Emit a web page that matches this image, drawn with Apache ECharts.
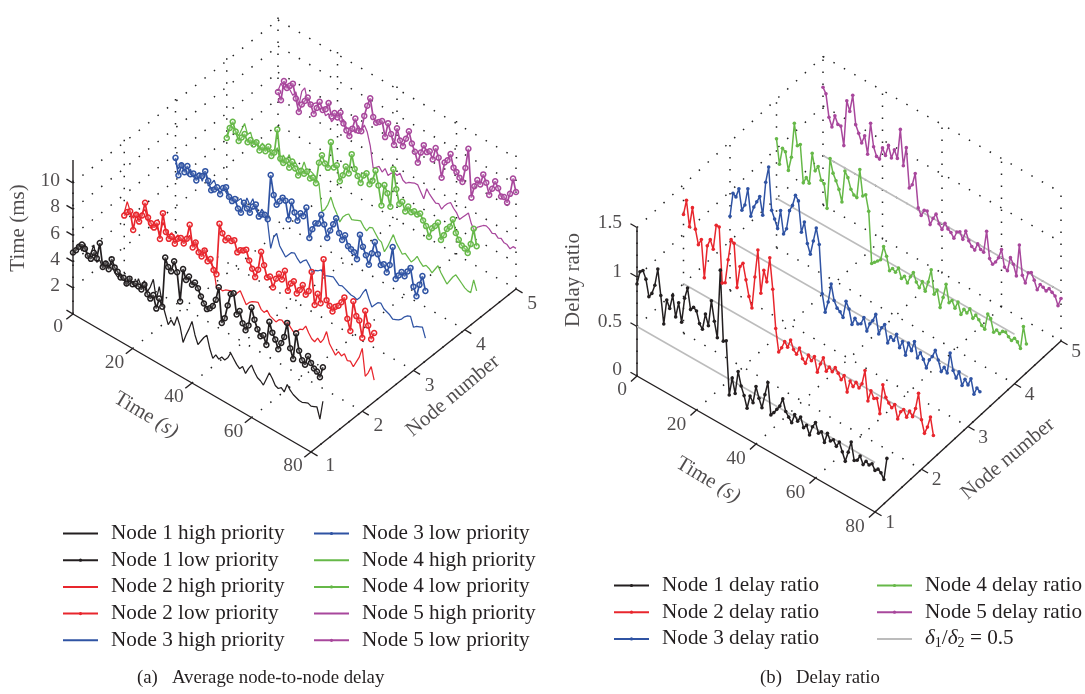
<!DOCTYPE html>
<html><head><meta charset="utf-8"><style>html,body{margin:0;padding:0;background:#fff}#c{width:1085px;height:694px}</style>
<script src="https://cdn.jsdelivr.net/npm/echarts@6/dist/echarts.min.js"></script></head>
<body><div id="c"></div>
<script>
// ---- tick labels ----
const timeTicks=[0,20,40,60,80];
const nodeTicks=[1,2,3,4,5];
const delayTicks=[2,4,6,8,10];
const ratioTicks=[0.5,1,1.5];
// ---- panel (a): average node-to-node delay (ms), one value per second ----
const node1High=[4.6,5.1,5.6,5.2,5.9,5.0,5.4,6.2,5.0,5.3,4.8,5.5,5.2,5.6,5.0,4.8,5.2,5.0,4.5,5.3,5.0,4.8,5.6,5.1,5.7,5.0,5.5,6.2,4.8,5.9,
4.8,4.1,3.4,3.9,3.6,4.4,3.8,2.7,3.4,4.0,4.7,3.8,3.2,3.6,4.0,4.3,3.4,2.8,3.2,3.0,3.3,3.2,3.5,4.0,3.7,3.4,3.2,3.5,3.1,3.6,
4.0,3.6,3.3,3.2,3.0,3.6,4.2,3.9,3.5,3.4,3.6,3.4,4.1,3.8,3.6,3.5,3.4,3.4,3.5,3.6,3.5,3.6,3.7,2.9,4.4];
const node1Low=[4.7,5.0,5.4,5.7,5.5,5.1,5.0,5.6,5.3,6.6,4.9,5.3,5.0,5.9,5.4,5.2,4.9,5.0,4.7,5.2,4.9,5.1,5.0,4.9,5.4,4.8,4.6,5.0,4.1,5.0,
4.5,8.4,7.8,7.6,8.5,7.8,5.7,8.3,7.6,8.0,7.5,7.8,7.5,7.0,6.6,6.3,6.5,6.8,7.4,8.5,5.9,6.4,7.5,8.5,8.7,7.2,7.6,6.8,6.4,6.9,
8.4,7.6,7.0,6.6,6.8,6.2,8.1,7.4,7.0,6.4,7.0,7.6,8.8,7.0,6.3,8.4,7.2,6.6,6.4,7.2,6.8,6.5,6.4,6.1,7.0];
const node2High=[4.6,5.6,5.0,4.6,5.2,4.9,5.4,5.8,5.0,4.6,4.9,5.0,4.6,5.6,5.2,4.9,5.2,4.8,5.3,5.0,5.1,5.3,5.8,5.2,5.6,5.0,5.0,5.4,4.9,4.6,
4.4,3.0,3.1,3.0,3.2,3.3,3.4,3.2,3.5,3.8,3.4,3.0,3.3,3.5,3.6,3.7,3.3,3.2,3.5,3.2,3.1,3.0,3.3,3.4,3.2,3.5,3.2,3.0,3.2,3.5,
3.6,4.0,3.6,3.3,3.2,3.6,3.4,3.8,4.5,3.7,3.4,3.1,3.5,3.3,3.6,3.2,3.3,3.0,3.5,4.0,4.8,2.8,3.2,3.8,2.9];
const node2Low=[4.4,4.8,5.0,3.7,5.0,4.6,5.2,6.3,5.3,5.0,4.8,5.3,4.2,6.3,5.0,4.6,4.9,4.5,5.0,5.2,4.9,5.4,6.6,5.0,5.5,4.9,4.7,5.3,4.6,4.9,
4.2,4.0,8.0,7.4,7.0,7.3,7.2,7.4,6.6,6.9,7.0,7.2,6.5,6.0,5.5,6.2,7.7,6.8,6.0,6.2,5.5,6.3,6.8,6.5,7.3,5.9,6.6,6.9,6.1,6.5,
7.0,6.4,6.8,8.4,6.0,7.0,6.4,9.9,6.9,6.6,6.3,6.8,7.0,7.4,7.9,6.4,5.6,8.0,7.0,6.8,5.6,7.8,6.8,5.9,6.5];
const node3High=[5.3,5.0,5.6,5.2,4.9,5.5,5.0,5.3,5.6,5.1,6.0,5.0,5.3,5.7,5.2,5.0,5.5,5.3,5.0,5.2,4.9,5.2,5.5,5.0,5.8,5.4,6.0,5.3,5.0,5.6,
5.4,4.8,3.0,4.0,4.4,3.6,3.3,3.0,3.3,3.6,3.7,3.4,3.2,3.5,3.7,3.4,3.0,3.3,3.4,3.6,3.3,3.4,3.5,3.6,3.4,3.2,3.3,3.2,3.1,3.0,
3.0,2.9,3.2,3.7,4.1,3.5,3.0,3.3,3.6,3.7,3.4,3.3,3.2,3.0,3.1,3.2,3.4,3.7,3.9,4.0,3.3,3.5,3.6,3.7,3.0];
const node3Low=[5.7,4.5,5.4,5.0,5.6,5.1,5.3,4.9,5.4,5.5,6.0,5.4,4.8,5.0,5.3,4.9,5.5,5.7,5.1,4.9,5.2,4.6,4.4,5.3,5.0,4.8,5.4,5.7,4.9,5.2,
5.3,5.1,8.6,7.2,6.6,7.0,7.4,7.3,6.0,7.5,6.8,6.3,7.0,6.9,7.7,5.5,6.3,6.9,7.0,7.8,7.2,6.3,7.0,7.6,8.2,7.2,6.8,7.3,6.6,6.5,
6.4,6.0,8.0,7.2,6.7,6.1,7.1,8.1,7.3,6.6,6.8,6.3,7.0,8.5,6.2,6.6,7.0,6.8,7.3,7.7,6.4,5.8,6.8,7.6,6.6];
const node4High=[4.3,5.0,5.2,5.0,4.8,5.4,6.0,5.3,5.6,4.9,5.2,4.8,5.3,5.0,4.9,5.2,5.0,5.6,4.6,5.3,5.0,5.6,4.9,5.3,5.0,4.9,5.7,5.1,5.3,5.2,
4.9,4.7,2.7,3.0,3.5,4.2,3.6,3.2,2.7,3.2,3.5,3.7,3.4,3.5,3.6,3.7,3.4,3.2,3.6,3.7,3.4,3.1,3.0,2.4,2.9,3.5,4.1,3.6,3.3,3.0,
3.2,3.0,2.8,3.1,3.5,3.2,3.0,3.2,3.1,2.9,3.3,3.7,3.3,3.0,2.7,3.1,3.5,3.8,3.6,3.4,3.2,3.1,3.1,4.2,3.5];
const node4Low=[4.1,5.0,5.6,5.0,4.4,4.8,5.2,4.7,5.0,4.8,5.1,4.6,5.0,4.8,5.3,4.7,5.1,7.0,4.9,4.7,5.0,4.6,5.2,4.8,4.4,4.9,4.8,5.1,4.7,4.9,
4.6,6.3,7.0,6.5,6.3,8.4,6.6,6.9,5.8,6.4,7.2,6.8,8.4,7.4,7.0,6.6,7.3,7.6,6.9,7.3,8.2,7.2,5.8,7.5,7.0,6.1,9.1,7.7,6.7,7.0,
6.4,6.9,6.6,6.8,6.7,6.9,6.5,6.2,5.5,6.3,6.6,7.0,5.8,6.3,6.9,7.2,7.9,7.0,6.6,6.3,6.2,6.0,6.8,8.1,6.9];
const node5High=[4.6,5.3,5.0,5.5,5.2,4.9,5.3,4.4,5.6,6.0,5.0,4.9,5.2,5.4,5.0,5.3,4.8,5.1,4.6,5.0,5.3,5.0,5.3,4.8,4.9,5.0,4.8,5.5,5.2,5.8,
5.4,4.5,2.9,3.1,3.3,3.0,3.4,3.0,3.3,3.5,3.4,3.7,3.3,3.2,3.4,3.5,3.6,3.6,3.2,2.8,3.7,3.4,3.2,3.0,3.1,2.8,3.2,3.5,3.7,3.4,
3.2,2.8,3.1,3.4,3.7,3.0,2.6,3.0,3.2,3.4,3.5,3.4,3.2,3.3,3.1,3.2,3.0,3.0,2.8,3.1,3.1];
const node5Low=[4.5,4.0,5.6,5.2,5.5,5.8,4.8,3.9,4.6,5.0,5.4,5.0,4.4,5.0,5.6,5.1,5.3,5.9,5.0,5.4,5.2,5.7,5.0,4.6,4.3,5.0,5.9,5.1,5.2,6.5,
7.4,8.1,6.8,6.5,6.7,6.9,5.8,7.0,6.3,5.6,7.0,6.2,5.9,6.6,7.3,6.5,6.0,5.3,6.2,6.9,6.5,6.7,6.2,7.2,6.6,5.2,6.5,6.8,7.4,6.5,
6.3,6.0,5.8,7.0,8.6,5.0,6.0,6.6,6.4,7.3,6.8,6.0,6.6,7.3,6.9,6.4,6.5,6.2,7.0,8.3,7.4];
// ---- panel (b): delay ratio, one value per second ----
const ratioNode1=[.93,1.07,1.10,1.03,.87,.92,1.02,1.20,.95,.68,.94,.87,1.02,.82,.98,.80,1.06,1.18,.98,1.02,1.0,.89,.85,1.02,.92,1.19,1.0,.85,1.55,.85,
.87,.34,.53,.39,.63,.50,.42,.31,.45,.40,.58,.48,.40,.55,.69,.38,.42,.47,.52,.61,.50,.46,.42,.52,.47,.53,.44,.48,.40,.50,
.56,.47,.50,.41,.52,.46,.49,.44,.50,.42,.34,.45,.57,.40,.42,.48,.41,.46,.44,.47,.42,.45,.43,.38,.61];
const ratioNode2=[1.20,1.36,1.11,1.32,1.12,.98,1.05,.68,1.02,1.10,1.02,1.28,1.28,.73,.75,1.00,1.22,1.20,.77,1.00,1.05,.90,.75,.65,.98,1.27,.85,1.10,1.00,1.26,
.96,.58,.36,.42,.50,.46,.55,.47,.44,.52,.43,.40,.50,.46,.52,.38,.48,.56,.44,.50,.47,.53,.49,.44,.50,.35,.48,.44,.50,.46,
.52,.67,.38,.50,.44,.46,.32,.63,.52,.48,.45,.50,.37,.46,.50,.44,.52,.48,.58,.75,.50,.38,.46,.58,.41];
const ratioNode3=[.75,1.0,.98,1.08,.88,.95,1.13,.87,.98,1.05,1.12,.95,1.30,1.47,1.05,.98,.90,1.10,.88,.95,1.15,1.22,1.34,1.30,1.0,1.12,.92,.83,.98,1.13,
.98,.50,.33,.45,.65,.50,.44,.42,.38,.56,.50,.36,.44,.40,.42,.50,.38,.47,.52,.60,.42,.50,.55,.38,.46,.44,.52,.40,.48,.36,
.50,.44,.55,.40,.47,.42,.35,.45,.50,.58,.50,.40,.46,.42,.64,.48,.42,.50,.38,.46,.42,.50,.36,.44,.42];
const ratioNode4=[1.10,.86,1.04,1.02,.85,1.00,1.36,1.15,1.18,.81,.88,.84,1.16,1.00,1.06,.94,.92,.69,1.21,1.08,1.02,.95,.84,1.17,1.12,1.02,.98,.97,1.27,1.02,
1.05,.90,.39,.42,.45,.48,.63,.55,.42,.46,.44,.50,.41,.45,.40,.48,.54,.46,.42,.50,.42,.53,.67,.44,.50,.34,.46,.61,.44,.48,
.42,.50,.39,.46,.44,.50,.42,.47,.44,.40,.38,.55,.52,.40,.44,.42,.46,.47,.44,.42,.46,.44,.39,.63,.47];
const ratioNode5=[1.19,1.14,.92,.84,.97,.90,.90,.72,1.19,1.10,1.28,1.0,.93,.85,.94,.77,1.10,.88,.80,.79,.92,.86,.98,.87,.97,.90,1.21,.86,1.06,.67,
.72,.85,.52,.46,.53,.54,.42,.50,.56,.48,.44,.52,.48,.46,.42,.50,.52,.46,.56,.48,.44,.42,.50,.46,.45,.68,.42,.38,.42,.48,
.58,.42,.40,.55,.50,.40,.73,.44,.38,.50,.52,.46,.38,.45,.44,.42,.46,.44,.42,.34,.43];
const ratioTarget=[0.5,0.5];
const ratioTargetTimes=[0,80];

const COL={1:'#231f20',2:'#e8262d',3:'#2f53a3',4:'#66b848',5:'#a8479c'};
const FONT='Liberation Serif';
const TXT='#231f20';
const A={grid:0,ox:73,oy:314,tx:2.975,ty:1.725,nx:51.25,ny:-40.75,zs:13.1};
const B={grid:1,ox:637,oy:376,tx:2.975,ty:1.7,nx:46.5,ny:-42.75,zs:99};
const proj=(p,t,n,z)=>[p.ox+p.tx*t+p.nx*(n-1), p.oy+p.ty*t+p.ny*(n-1)-p.zs*z];
const series=[];
function seg(p,a,b,style){
  series.push({type:'line',xAxisIndex:p.grid,yAxisIndex:p.grid,silent:true,symbol:'none',animation:false,
    data:[proj(p,...a),proj(p,...b)],lineStyle:style,z:2,clip:false});
}
const DOT={color:'#222',width:1.5,type:[1.5,10.5]};
const AX={color:TXT,width:1.4};
function frame(p,zTicks,zWall,zTop){
  nodeTicks.forEach(n=>{ seg(p,[0,n,0],[0,n,zWall],DOT); if(n>1) seg(p,[0,n,0],[80,n,0],DOT); });
  timeTicks.forEach(t=>{ if(t>0){ seg(p,[t,5,0],[t,5,zWall],DOT); seg(p,[t,1,0],[t,5,0],DOT);} });
  zTicks.forEach(z=>{ seg(p,[0,1,z],[0,5,z],DOT); seg(p,[0,5,z],[80,5,z],DOT); });
  const nl=0.13,ztl=2.2;
  seg(p,[0,1,0],[0,1,zTop],AX); seg(p,[0,1,0],[80,1,0],AX); seg(p,[80,1,0],[80,5,0],AX);
  timeTicks.forEach(t=>seg(p,[t,1,0],[t,1-nl,0],AX));
  nodeTicks.forEach(n=>seg(p,[80,n,0],[80+ztl,n,0],AX));
  [0,...zTicks].forEach(z=>seg(p,[0,1,z],[-ztl,1,z],AX));
}
function labels(p,items){
  series.push({type:'scatter',xAxisIndex:p.grid,yAxisIndex:p.grid,silent:true,symbolSize:0,animation:false,z:5,clip:false,
    data:items.map(o=>({value:o.at,label:{show:true,position:'inside',formatter:o.text,align:o.align||'center',verticalAlign:'middle',rotate:o.rotate||0,
      color:TXT,fontFamily:FONT,fontSize:o.size||19.5,
      rich:{i:{fontStyle:'italic',fontFamily:FONT,fontSize:o.size||19.5,color:TXT},n:{fontFamily:FONT,fontSize:o.size||19.5,color:TXT}}}}))});
}
const off=(pt,dx,dy)=>[pt[0]+dx,pt[1]+dy];
function node(p,name,n,arr,kind){
  const data=arr.map((v,t)=>proj(p,t,n,v));
  const s={type:'line',name,xAxisIndex:p.grid,yAxisIndex:p.grid,data,silent:true,animation:false,clip:false,z:3,
    lineStyle:{color:COL[n],width:1.25},itemStyle:{color:COL[n]},showAllSymbol:true};
  if(kind==='high'){s.symbol='none';}
  if(kind==='low'){s.symbol='circle';s.symbolSize=5;s.lineStyle.width=1.7;s.itemStyle={color:'rgba(255,255,255,0.2)',borderColor:COL[n],borderWidth:1.5};}
  if(kind==='ratio'){s.symbol='circle';s.symbolSize=3.6;s.lineStyle.width=1.5;}
  series.push(s);
}
// panel a
frame(A,delayTicks,10.5,11.75);
[5,4,3,2,1].forEach(n=>{
  const hi={1:node1High,2:node2High,3:node3High,4:node4High,5:node5High}[n];
  const lo={1:node1Low,2:node2Low,3:node3Low,4:node4Low,5:node5Low}[n];
  node(A,`Node ${n} high priority`,n,hi,'high');
  node(A,`Node ${n} low priority`,n,lo,'low');
});
labels(A,[
  ...delayTicks.map(z=>({at:off(proj(A,0,1,z),-13,-2),text:String(z),align:'right'})),
  ...timeTicks.map(t=>({at:off(proj(A,t,1,0),t?-18:-15,t?14:13),text:String(t)})),
  ...nodeTicks.map(n=>({at:off(proj(A,80,n,0),n==1?19:16,n==1?14:15),text:String(n)})),
  {at:[146,415],text:'{n|Time }{i|(s)}',rotate:-31,size:21},
  {at:[453,396],text:'Node number',rotate:40,size:21},
  {at:[18,228],text:'Time (ms)',rotate:90,size:21},
]);
// panel b
frame(B,ratioTicks,1.5,1.5);
[5,4,3,2,1].forEach(n=>{
  series.push({type:'line',name:'δ1/δ2 = 0.5',xAxisIndex:1,yAxisIndex:1,symbol:'none',silent:true,animation:false,clip:false,z:2,
    data:ratioTargetTimes.map((t,i)=>proj(B,t,n,ratioTarget[i])),lineStyle:{color:'#bcbcbc',width:1.5},itemStyle:{color:'#bcbcbc'}});
});
[5,4,3,2,1].forEach(n=>{
  const arr={1:ratioNode1,2:ratioNode2,3:ratioNode3,4:ratioNode4,5:ratioNode5}[n];
  node(B,`Node ${n} delay ratio`,n,arr,'ratio');
});
labels(B,[
  ...ratioTicks.map(z=>({at:off(proj(B,0,1,z),-15,-5),text:String(z),align:'right'})),
  {at:off(proj(B,0,1,0),-15,-6),text:'0',align:'right'},
  ...timeTicks.map(t=>({at:off(proj(B,t,1,0),t?-20:-15,t?15:14),text:String(t)})),
  ...nodeTicks.map(n=>({at:off(proj(B,80,n,0),15,11),text:String(n)})),
  {at:[708,480],text:'{n|Time }{i|(s)}',rotate:-31,size:21},
  {at:[1008,459],text:'Node number',rotate:40,size:21},
  {at:[573,280],text:'Delay ratio',rotate:90,size:21},
]);
const LF=21.2;
function legend(names,left,top,kind){
  return {orient:'vertical',left,top,itemWidth:35,itemHeight:4,itemGap:5.7,selectedMode:false,
    data:names.map(n=>{
      const c=COL[+n.split(' ')[1]];
      const isLow=n.includes('low');
      if(c&&(isLow||kind==='ratio')) return {name:n,itemStyle:{color:c,borderWidth:0}};
      return {name:n,itemStyle:{opacity:0}};
    }),
    formatter:n=>n.startsWith('δ')?'{i|δ}{s|1}{n|/}{i|δ}{s|2}{n| = 0.5}':n,
    textStyle:{fontFamily:FONT,fontSize:LF,color:TXT,lineHeight:19,padding:[0,0,0,8],
      rich:{i:{fontFamily:FONT,fontSize:LF,fontStyle:'italic',color:TXT},n:{fontFamily:FONT,fontSize:LF,color:TXT},s:{fontFamily:FONT,fontSize:14,color:TXT,padding:[8,0,0,0]}}}};
}
const h=n=>[`Node ${n} high priority`,`Node ${n} low priority`];
const chart=echarts.init(document.getElementById('c'),null,{renderer:'canvas'});
const CAP={fontFamily:FONT,fontSize:18.8,fontWeight:'normal',color:TXT};
chart.setOption({
  animation:false,backgroundColor:'#fff',
  title:[
    {text:'(a)   Average node-to-node delay',left:137,top:669,textStyle:CAP,padding:0},
    {text:'(b)   Delay ratio',left:760,top:669,textStyle:CAP,padding:0}
  ],
  grid:[{left:0,top:0,width:545,height:694},{left:545,top:0,width:540,height:694}],
  xAxis:[{type:'value',gridIndex:0,min:0,max:545,show:false},{type:'value',gridIndex:1,min:545,max:1085,show:false}],
  yAxis:[{type:'value',gridIndex:0,min:0,max:694,inverse:true,show:false},{type:'value',gridIndex:1,min:0,max:694,inverse:true,show:false}],
  legend:[
    legend([...h(1),...h(2),`Node 3 high priority`],57,518,'p'),
    legend([`Node 3 low priority`,...h(4),...h(5)],308,518,'p'),
    legend([1,2,3].map(n=>`Node ${n} delay ratio`),608,570,'ratio'),
    legend([`Node 4 delay ratio`,`Node 5 delay ratio`,'δ1/δ2 = 0.5'],871,570,'ratio')
  ],
  series
});
</script></body></html>
